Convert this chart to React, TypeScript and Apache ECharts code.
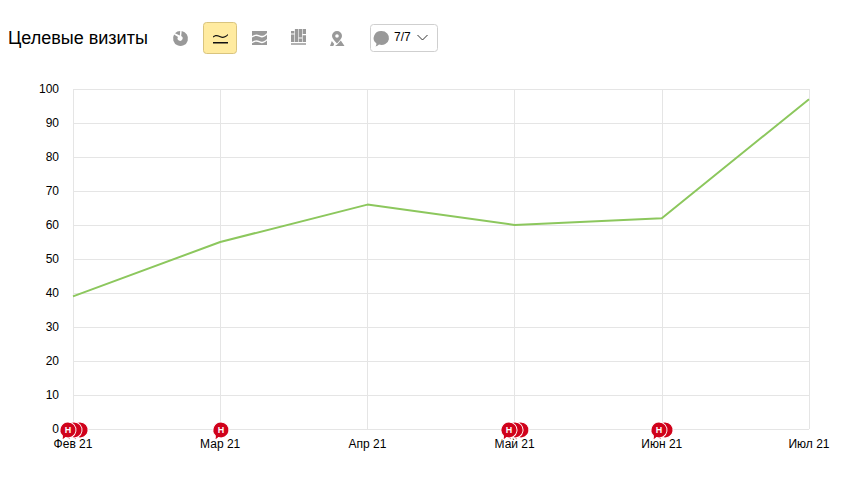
import React, { useEffect, useRef } from "react";
import * as echarts from "echarts";

const months = ["Фев 21", "Мар 21", "Апр 21", "Май 21", "Июн 21", "Июл 21"];
const visits = [39, 55, 66, 60, 62, 97];
// Annotation positions in month units (0 = Фев 21), all sitting on y = 0.
// The covered pins are listed from right to left so that they overlap as in the picture.
const coveredPins = [0.048, 0.007, 3.043, 3.003, 4.022];
const frontPins = [-0.034, 1.005, 2.962, 3.981];
const pinLetter = "Н";
const counterLabel = "7/7";
const chartTitle = "Целевые визиты";

const FONT = '"Liberation Sans", Arial, sans-serif';
const PIN = "path://M8 0A8 8 0 1 1 5.6 15.6C4.8 16.8 3.4 17.6 1.6 18C2.4 16.8 2.6 15.6 2.4 13.7A8 8 0 0 1 8 0Z";

const shapes: Record<string, string> = {
  iconPie: "M8.7 0.1A7.5 7.5 0 1 1 1.1 3.6L5 6A2.5 2.5 0 1 0 8.2 5.1ZM2 2.2A7.5 7.5 0 0 1 7.2 0L6.8 4.6Z",
  iconLine: "M0 3.5C2 1.5 4 1.5 7 3C10 4.5 12 3.5 15 1V2.3C12 4.8 10 5.8 7 4.3C4 2.8 2 2.8 0 4.8ZM0 9H15V10.5H0Z",
  iconStack: "M0 0H15V2C12 5 10 5.5 7.5 4.2C5 3 3 3 0 5ZM0 6.5C3 4.5 5 4.5 7.5 5.8C10 7 12 6.5 15 3.7V8C12 10.8 10 11.3 7.5 10C5 8.8 3 8.8 0 10.8ZM0 12.3C3 10.3 5 10.3 7.5 11.6C10 12.8 12 12.3 15 9.5V14H0Z",
  iconColumns: "M0 2H3.3V4.4H0ZM0 5.4H3.3V13H0ZM3.9 0H7.2V13H3.9ZM7.8 0H11.1V8.4H7.8ZM7.8 9.6H11.1V13H7.8ZM11.7 0H15V5H11.7ZM11.7 6.2H15V13H11.7ZM0 14.3H15V15.8H0Z",
  iconMap: "M7 0A5 5 0 0 1 12 5C12 7.5 9.5 9.5 7 12.5C4.5 9.5 2 7.5 2 5A5 5 0 0 1 7 0ZM7 3.2A1.8 1.8 0 1 0 7 6.8A1.8 1.8 0 1 0 7 3.2ZM1.8 10L4.2 13L3.3 15H0ZM10.8 9.6L14.5 15H5L7.2 13.5Z",
  iconBubble: "M8 0A7.5 7 0 1 1 5.5 13.6C4.5 14.6 3.4 15.2 2 15.5C2.8 14.5 3 13.4 2.8 12.3A7.5 7 0 0 1 8 0Z",
};
Object.keys(shapes).forEach((k) => {
  echarts.graphic.registerShape(k, echarts.graphic.extendPath(shapes[k], {}) as any);
});

export default function App() {
  const ref = useRef<HTMLDivElement>(null);
  useEffect(() => {
    const chart = echarts.init(ref.current!, null, { renderer: "svg" });
    const gray = "#999999";
    const pinStyle = { color: "#d0021b", borderColor: "#fff", borderWidth: 1, opacity: 1 };
    const pinSeries = {
      type: "scatter",
      xAxisIndex: 1,
      yAxisIndex: 0,
      symbol: PIN,
      symbolSize: [16, 18],
      symbolKeepAspect: false,
      symbolOffset: [0, 2],
      clip: false,
      itemStyle: pinStyle,
      silent: true,
    };
    chart.setOption({
      animation: false,
      backgroundColor: "#fff",
      grid: { left: 73, right: 48, top: 89, bottom: 68, containLabel: false },
      xAxis: [
        {
          type: "category",
          data: months,
          boundaryGap: false,
          axisLine: { show: false },
          axisTick: { show: false },
          axisLabel: { color: "#000", fontFamily: FONT, fontSize: 12, margin: 9, interval: 0 },
          splitLine: { show: true, lineStyle: { color: "#e5e5e5", width: 1 } },
        },
        { type: "value", min: 0, max: 5, show: false },
      ],
      yAxis: {
        type: "value",
        min: 0,
        max: 100,
        interval: 10,
        axisLine: { show: false },
        axisTick: { show: false },
        axisLabel: { color: "#000", fontFamily: FONT, fontSize: 12, margin: 14 },
        splitLine: { show: true, lineStyle: { color: "#e5e5e5", width: 1 } },
      },
      series: [
        {
          type: "line",
          data: visits,
          symbol: "none",
          lineStyle: { color: "#8cc75d", width: 2 },
          z: 3,
        },
        { ...pinSeries, z: 4, data: coveredPins.map((x) => [x, 0]) },
        {
          ...pinSeries,
          z: 5,
          data: frontPins.map((x) => [x, 0]),
          label: {
            show: true,
            position: "inside",
            formatter: pinLetter,
            color: "#fff",
            fontFamily: FONT,
            fontSize: 9,
            fontWeight: "bold",
            offset: [0, -1],
          },
        },
      ],
      graphic: [
        { type: "text", x: 8, y: 38, style: { text: chartTitle, fontFamily: FONT, fontSize: 18, fill: "#000", textVerticalAlign: "middle" } },
        { type: "iconPie", x: 173, y: 31, style: { fill: gray } },
        { type: "rect", shape: { x: 203.5, y: 22.5, width: 33, height: 31, r: 3 }, style: { fill: "#ffeba0", stroke: "#d9c47e", lineWidth: 1 } },
        { type: "iconLine", x: 213, y: 33, style: { fill: "#111" } },
        { type: "iconStack", x: 252, y: 31, style: { fill: gray } },
        { type: "iconColumns", x: 291, y: 29, style: { fill: gray } },
        { type: "iconMap", x: 330, y: 31, style: { fill: gray } },
        { type: "rect", shape: { x: 370.5, y: 24.5, width: 67, height: 27, r: 3 }, style: { fill: "#fff", stroke: "#cfcfcf", lineWidth: 1 } },
        { type: "iconBubble", x: 373.5, y: 31, style: { fill: gray } },
        { type: "text", x: 394, y: 37, style: { text: counterLabel, fontFamily: FONT, fontSize: 12, fill: "#000", textVerticalAlign: "middle" } },
        { type: "polyline", shape: { points: [[417.5, 35], [422.5, 40], [427.5, 35]] }, style: { stroke: "#333", lineWidth: 1, fill: "none" } },
      ],
    });
    return () => chart.dispose();
  }, []);
  return <div ref={ref} style={{ position: "fixed", left: 0, top: 0, width: 857, height: 497 }} />;
}
